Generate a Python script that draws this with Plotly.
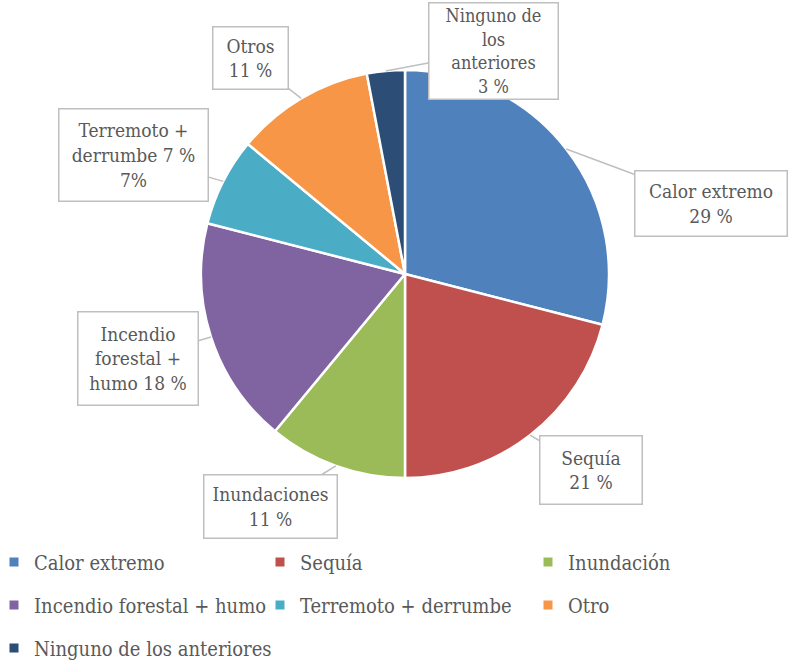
import math
import plotly.graph_objects as go

# ---- data ----
categories = ["Calor extremo", "Sequía", "Inundación", "Incendio forestal + humo",
              "Terremoto + derrumbe", "Otro", "Ninguno de los anteriores"]
values = [29, 21, 11, 18, 7, 11, 3]
callout_texts = ["Calor extremo<br>29 %", "Sequía<br>21 %", "Inundaciones<br>11 %",
                 "Incendio<br>forestal +<br>humo 18 %", "Terremoto +<br>derrumbe 7 %<br>7%",
                 "Otros<br>11 %", "Ninguno de<br>los<br>anteriores<br>3 %"]
colors = ["#4F81BD", "#C0504D", "#9BBB59", "#8064A2", "#4BACC6", "#F79646", "#2C4D75"]

# ---- layout constants ----
W, H = 789, 664
CX, CY, R = 405, 274, 204          # pie centre / radius in px
FONT = "DejaVu Serif Condensed, Liberation Serif, serif"
TXT = "#595959"
# callout box centres (px), outer sizes (px), font sizes
box_centres = [(711, 203), (591, 470), (270, 506), (138, 358), (133, 155), (250, 58), (493, 51)]
box_sizes = [(153, 66), (103, 69), (134, 64), (121, 94), (150, 93), (76, 63), (130, 97)]
box_fonts = [19, 19, 19, 19, 19, 19, 18]
# legend grid (px): column x of each legend entry, row centre y
leg_col_x = [0, 266, 534]
leg_row_y = [562, 605, 648]
leg_cells = [(0, 0), (1, 0), (2, 0), (0, 1), (1, 1), (2, 1), (0, 2)]

dom_x = [(CX - R) / W, (CX + R) / W]
dom_y = [(H - (CY + R)) / H, (H - (CY - R)) / H]

fig = go.Figure()
fig.add_trace(go.Pie(
    labels=categories, values=values, sort=False, direction="clockwise", rotation=0,
    marker=dict(colors=colors, line=dict(color="white", width=2.5)),
    textinfo="none", hoverinfo="label+percent", showlegend=False,
    domain=dict(x=dom_x, y=dom_y),
))

legend_layout = {}
for i, (name, col, (cx_i, ry_i)) in enumerate(zip(categories, colors, leg_cells)):
    key = "legend" if i == 0 else f"legend{i + 1}"
    fig.add_trace(go.Scatter(
        x=[None], y=[None], mode="markers", name=name,
        marker=dict(symbol="square", size=9, color=col),
        legend=key, hoverinfo="skip",
    ))
    legend_layout[key] = dict(
        orientation="h", x=leg_col_x[cx_i] / W, xanchor="left",
        y=1 - leg_row_y[ry_i] / H, yanchor="middle", indentation=-6,
        font=dict(family=FONT, size=20, color=TXT), bgcolor="rgba(0,0,0,0)",
    )

# callouts: tips computed from slice mid-angles
total = sum(values)
cum = 0
annotations = []
for v, txt, (bx, by), (bw, bh), fs in zip(values, callout_texts, box_centres, box_sizes, box_fonts):
    mid = (cum + v / 2) / total * 2 * math.pi
    cum += v
    tx = CX + R * math.sin(mid)
    ty = CY - R * math.cos(mid)
    annotations.append(dict(
        x=tx / W, y=1 - ty / H, xref="paper", yref="paper",
        ax=bx - tx, ay=by - ty, axref="pixel", ayref="pixel",
        text=txt, showarrow=True, arrowhead=0, arrowwidth=1.5, arrowcolor="#BFBFBF",
        bordercolor="#BFBFBF", borderwidth=1.5, borderpad=1, bgcolor="white",
        width=bw - 4, height=bh - 4, align="center", valign="middle",
        font=dict(family=FONT, size=fs, color=TXT),
    ))

fig.update_layout(
    width=W, height=H, margin=dict(l=0, r=0, t=0, b=0, autoexpand=False),
    paper_bgcolor="white", plot_bgcolor="white", showlegend=True,
    xaxis=dict(visible=False), yaxis=dict(visible=False),
    annotations=annotations,
    **legend_layout,
)

fig.write_html("out.html", config={"displayModeBar": False},
               post_script="document.body.style.margin='0';document.body.style.overflow='hidden';")
